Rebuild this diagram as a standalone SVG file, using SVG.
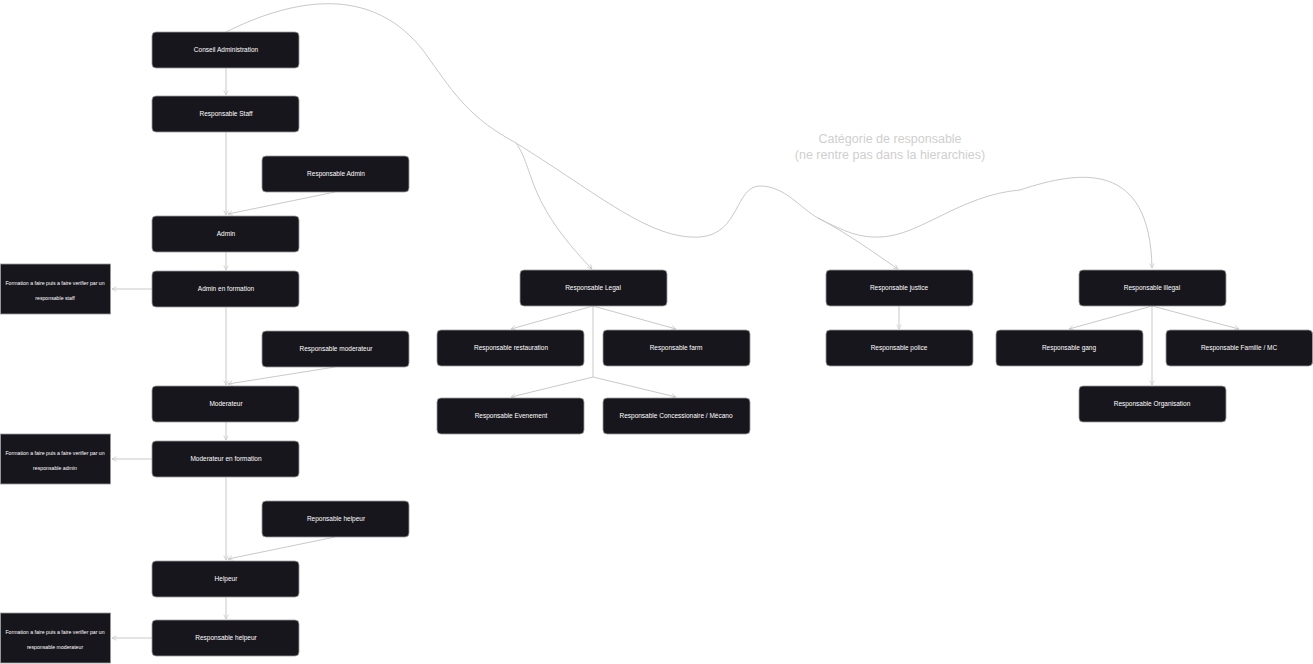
<svg xmlns="http://www.w3.org/2000/svg" width="1313" height="664" viewBox="0 0 1313 664">
<style>
.n{fill:#18161d;stroke:#9a9a9a;stroke-width:0.8}
.t{fill:#fff;font-family:"Liberation Sans",Arial,sans-serif;font-size:6.5px;text-anchor:middle;dominant-baseline:middle}
.s{fill:#fff;font-family:"Liberation Sans",Arial,sans-serif;font-size:5.2px;text-anchor:middle;dominant-baseline:middle}
.c path{fill:none;stroke:#c9c9c9;stroke-width:1}
.lbl{fill:#cfcfcf;font-family:"Liberation Sans",Arial,sans-serif;font-size:12.5px;text-anchor:middle}
</style>
<defs>
<marker id="a" viewBox="0 0 8 8" refX="7" refY="4" markerWidth="6" markerHeight="6" orient="auto"><path d="M1,1 L7,4 L1,7" fill="none" stroke="#c9c9c9" stroke-width="1"/></marker>
</defs>
<rect width="1313" height="664" fill="#fff"/>
<g class="c">
<path d="M226,32 C300,-5 380,-15 430,60 C455,95 470,118 516,143 C600,195 650,240 700,237 C740,234 735,186 760,186 C785,186 800,208 818,218 C845,232 860,238 880,237 C920,236 960,195 1020,190 C1080,170 1150,160 1152,268" marker-end="url(#a)"/>
<path d="M516,143 C535,170 525,200 592,269" marker-end="url(#a)"/>
<path d="M818,218 C850,235 870,250 898,269" marker-end="url(#a)"/>
<path d="M226,68 V95" marker-end="url(#a)"/>
<path d="M226,132 V215" marker-end="url(#a)"/>
<path d="M335,192 L228,214" marker-end="url(#a)"/>
<path d="M226,252 V270" marker-end="url(#a)"/>
<path d="M152,289 H112" marker-end="url(#a)"/>
<path d="M226,307 V385" marker-end="url(#a)"/>
<path d="M335,367 L228,384" marker-end="url(#a)"/>
<path d="M226,422 V440" marker-end="url(#a)"/>
<path d="M152,459 H112" marker-end="url(#a)"/>
<path d="M226,477 V560" marker-end="url(#a)"/>
<path d="M335,537 L228,559" marker-end="url(#a)"/>
<path d="M226,597 V619" marker-end="url(#a)"/>
<path d="M152,638 H112" marker-end="url(#a)"/>
<path d="M593,306 L511,329" marker-end="url(#a)"/>
<path d="M593,306 L676,329" marker-end="url(#a)"/>
<path d="M593,306 V377 L511,397" marker-end="url(#a)"/>
<path d="M593,377 L676,397" marker-end="url(#a)"/>
<path d="M899,306 V329" marker-end="url(#a)"/>
<path d="M1152,306 L1069,329" marker-end="url(#a)"/>
<path d="M1152,306 L1239,329" marker-end="url(#a)"/>
<path d="M1152,306 V385" marker-end="url(#a)"/>
</g>
<text class="lbl" x="890" y="143">Catégorie de responsable</text>
<text class="lbl" x="890" y="159">(ne rentre pas dans la hierarchies)</text>
<g id="conseil"><rect class="n" x="152" y="32" width="147" height="36" rx="4"/><text class="t" x="226" y="50">Conseil Administration</text></g>
<g id="staff"><rect class="n" x="152" y="96" width="147" height="36" rx="4"/><text class="t" x="226" y="114">Responsable Staff</text></g>
<g id="radmin"><rect class="n" x="262" y="156" width="147" height="36" rx="4"/><text class="t" x="336" y="174">Responsable Admin</text></g>
<g id="admin"><rect class="n" x="152" y="216" width="147" height="36" rx="4"/><text class="t" x="226" y="234">Admin</text></g>
<g id="adminf"><rect class="n" x="152" y="271" width="147" height="36" rx="4"/><text class="t" x="226" y="289">Admin en formation</text></g>
<g id="f1"><rect class="n" x="0.5" y="264" width="110" height="50"/><text class="s" x="55" y="284">Formation a faire puis a faire verifier par un</text><text class="s" x="55" y="299">responsable staff</text></g>
<g id="rmod"><rect class="n" x="262" y="331" width="147" height="36" rx="4"/><text class="t" x="336" y="349">Responsable moderateur</text></g>
<g id="mod"><rect class="n" x="152" y="386" width="147" height="36" rx="4"/><text class="t" x="226" y="404">Moderateur</text></g>
<g id="modf"><rect class="n" x="152" y="441" width="147" height="36" rx="4"/><text class="t" x="226" y="459">Moderateur en formation</text></g>
<g id="f2"><rect class="n" x="0.5" y="434" width="110" height="50"/><text class="s" x="55" y="454">Formation a faire puis a faire verifier par un</text><text class="s" x="55" y="469">responsable admin</text></g>
<g id="rhelp"><rect class="n" x="262" y="501" width="147" height="36" rx="4"/><text class="t" x="336" y="519">Reponsable helpeur</text></g>
<g id="help"><rect class="n" x="152" y="561" width="147" height="36" rx="4"/><text class="t" x="226" y="579">Helpeur</text></g>
<g id="rhelp2"><rect class="n" x="152" y="620" width="147" height="36" rx="4"/><text class="t" x="226" y="638">Responsable helpeur</text></g>
<g id="f3"><rect class="n" x="0.5" y="613" width="110" height="50"/><text class="s" x="55" y="633">Formation a faire puis a faire verifier par un</text><text class="s" x="55" y="648">responsable moderateur</text></g>
<g id="legal"><rect class="n" x="520" y="270" width="147" height="36" rx="4"/><text class="t" x="593" y="288">Responsable Legal</text></g>
<g id="resto"><rect class="n" x="437" y="330" width="147" height="36" rx="4"/><text class="t" x="511" y="348">Responsable restauration</text></g>
<g id="farm"><rect class="n" x="603" y="330" width="147" height="36" rx="4"/><text class="t" x="676" y="348">Responsable farm</text></g>
<g id="event"><rect class="n" x="437" y="398" width="147" height="36" rx="4"/><text class="t" x="511" y="416">Responsable Evenement</text></g>
<g id="conc"><rect class="n" x="603" y="398" width="147" height="36" rx="4"/><text class="t" x="676" y="416">Responsable Concessionaire / Mécano</text></g>
<g id="justice"><rect class="n" x="826" y="270" width="147" height="36" rx="4"/><text class="t" x="899" y="288">Responsable justice</text></g>
<g id="police"><rect class="n" x="826" y="330" width="147" height="36" rx="4"/><text class="t" x="899" y="348">Responsable police</text></g>
<g id="illegal"><rect class="n" x="1079" y="270" width="147" height="36" rx="4"/><text class="t" x="1152" y="288">Responsable illegal</text></g>
<g id="gang"><rect class="n" x="996" y="330" width="147" height="36" rx="4"/><text class="t" x="1069" y="348">Responsable gang</text></g>
<g id="famille"><rect class="n" x="1166" y="330" width="146.5" height="36" rx="4"/><text class="t" x="1239" y="348">Responsable Famille / MC</text></g>
<g id="orga"><rect class="n" x="1079" y="386" width="147" height="36" rx="4"/><text class="t" x="1152" y="404">Responsable Organisation</text></g>
</svg>
